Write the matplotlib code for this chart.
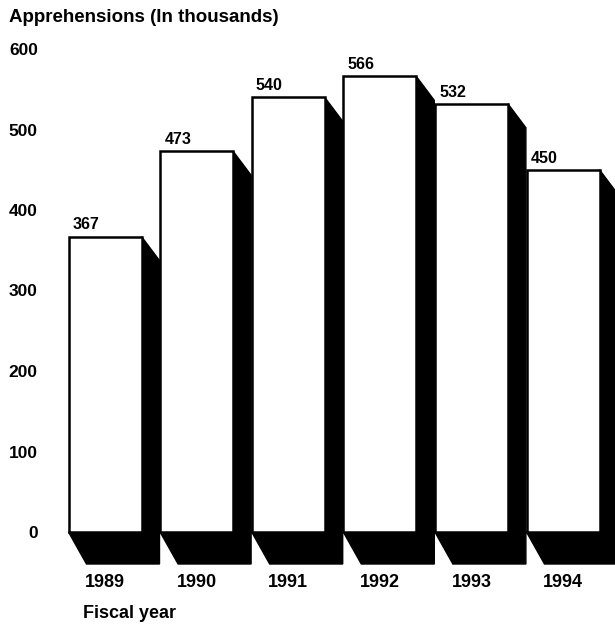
import matplotlib

matplotlib.use("Agg")
import matplotlib.pyplot as plt
from matplotlib.patches import Polygon, Rectangle

years = ["1989", "1990", "1991", "1992", "1993", "1994"]
apprehensions = [367, 473, 540, 566, 532, 450]
yticks = [0, 100, 200, 300, 400, 500, 600]

plt.rcParams["font.family"] = ["Liberation Sans", "DejaVu Sans"]
plt.rcParams["font.weight"] = "bold"

W, H, DPI = 615, 630, 100
fig = plt.figure(figsize=(W / DPI, H / DPI), dpi=DPI)

# axes placed in pixels: y=0 at px 532, y=600 at px 49
left_px, right_px, bot_px, top_px = 44, 615, 532, 49
ax = fig.add_axes([left_px / W, 1 - bot_px / H,
                   (right_px - left_px) / W, (bot_px - top_px) / H])
pitch_px = 91.6
ax.set_xlim((left_px - 105) / pitch_px, (right_px - 105) / pitch_px)
ax.set_ylim(0, 600)
for s in ax.spines.values():
    s.set_visible(False)

px_per_y = (bot_px - top_px) / 600
bar_w = 73 / pitch_px
dx = 18 / pitch_px
dy_top = 24 / px_per_y
dy_bot = 32 / px_per_y

for i, v in enumerate(apprehensions):
    l, r = i - bar_w / 2, i + bar_w / 2
    # black extrusion (side + floor), then white face on top
    shadow = Polygon([(r, v), (r + dx, v - dy_top), (r + dx, -dy_bot),
                      (l + dx, -dy_bot), (l, 0), (r, 0)],
                     closed=True, facecolor="black", edgecolor="black",
                     linewidth=1, clip_on=False, zorder=1)
    ax.add_patch(shadow)
    ax.add_patch(Rectangle((l, 0), bar_w, v, facecolor="white",
                           edgecolor="black", linewidth=1.8,
                           clip_on=False, zorder=2))
    ax.annotate(str(v), (l, v), xytext=(3, 3), textcoords="offset points",
                ha="left", va="bottom", fontsize=11.5, fontweight="bold")

ax.set_yticks(yticks)
ax.set_yticklabels([str(t) for t in yticks], fontsize=12.5, fontweight="bold")
ax.set_xticks(range(len(years)))
ax.set_xticklabels(years, fontsize=13, fontweight="bold")
ax.tick_params(axis="y", length=0, pad=4.5)
ax.tick_params(axis="x", length=0, pad=30)

fig.text(9 / W, 1 - 17 / H, "Apprehensions (In thousands)", ha="left",
         va="center", fontsize=13.5, fontweight="bold")
fig.text(83 / W, 1 - 613 / H, "Fiscal year", ha="left", va="center",
         fontsize=13, fontweight="bold")

fig.savefig("out.png", dpi=DPI)
